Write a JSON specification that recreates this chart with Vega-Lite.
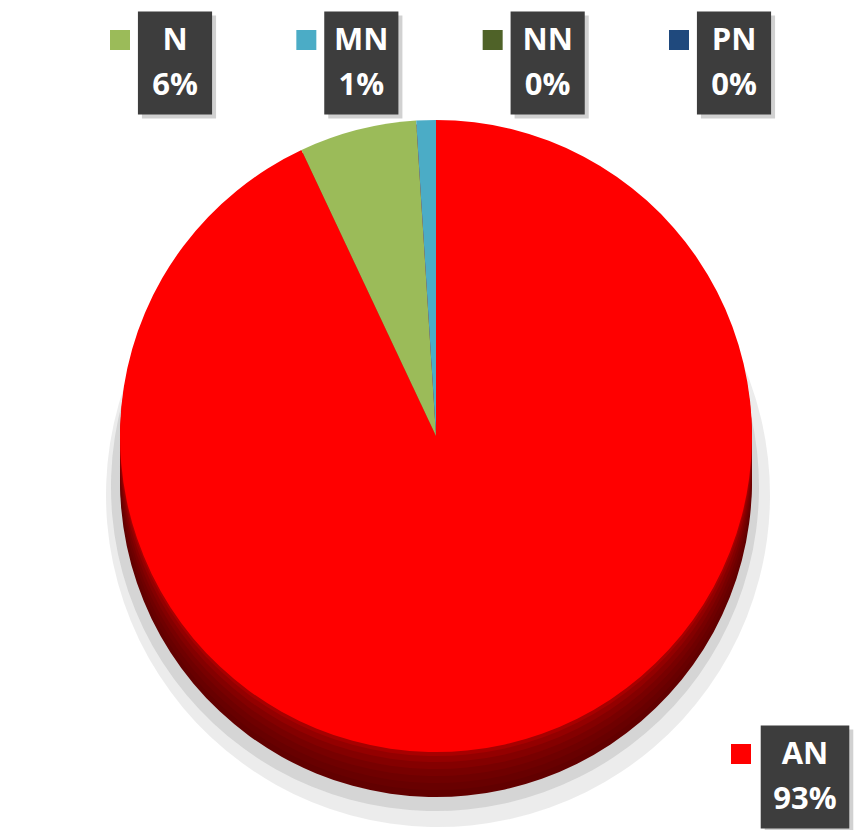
{
  "$schema": "https://vega.github.io/schema/vega-lite/v6.json",
  "width": 856,
  "height": 830,
  "autosize": {"type": "none"},
  "padding": 0,
  "background": "white",
  "config": {"view": {"stroke": null}},
  "data": {
    "values": [
      {"category": "AN", "share": 0.93},
      {"category": "N", "share": 0.06},
      {"category": "MN", "share": 0.01},
      {"category": "NN", "share": 0},
      {"category": "PN", "share": 0}
    ]
  },
  "transform": [{"window": [{"op": "row_number", "as": "rank"}]}],
  "layer": [
    {
      "mark": {"type": "arc", "outerRadius": 332, "fill": "#a0a0a0", "opacity": 0.2, "xOffset": 10, "yOffset": 80},
      "encoding": {"theta": {"field": "share", "type": "quantitative"}, "order": {"field": "rank"}}
    },
    {
      "mark": {"type": "arc", "outerRadius": 324, "fill": "#a0a0a0", "opacity": 0.3, "xOffset": 7, "yOffset": 72},
      "encoding": {"theta": {"field": "share", "type": "quantitative"}, "order": {"field": "rank"}}
    },
    {
      "mark": {"type": "arc", "outerRadius": 316, "fill": "#620000", "xOffset": 8, "yOffset": 66},
      "encoding": {"theta": {"field": "share", "type": "quantitative"}, "order": {"field": "rank"}}
    },
    {
      "mark": {"type": "arc", "outerRadius": 316, "fill": "#680000", "xOffset": 8, "yOffset": 59},
      "encoding": {"theta": {"field": "share", "type": "quantitative"}, "order": {"field": "rank"}}
    },
    {
      "mark": {"type": "arc", "outerRadius": 316, "fill": "#6f0000", "xOffset": 8, "yOffset": 52},
      "encoding": {"theta": {"field": "share", "type": "quantitative"}, "order": {"field": "rank"}}
    },
    {
      "mark": {"type": "arc", "outerRadius": 316, "fill": "#780000", "xOffset": 8, "yOffset": 45},
      "encoding": {"theta": {"field": "share", "type": "quantitative"}, "order": {"field": "rank"}}
    },
    {
      "mark": {"type": "arc", "outerRadius": 316, "fill": "#840000", "xOffset": 8, "yOffset": 38},
      "encoding": {"theta": {"field": "share", "type": "quantitative"}, "order": {"field": "rank"}}
    },
    {
      "mark": {"type": "arc", "outerRadius": 316, "fill": "#940000", "xOffset": 8, "yOffset": 31},
      "encoding": {"theta": {"field": "share", "type": "quantitative"}, "order": {"field": "rank"}}
    },
    {
      "mark": {"type": "arc", "outerRadius": 316, "fill": "#a80000", "xOffset": 8, "yOffset": 25},
      "encoding": {"theta": {"field": "share", "type": "quantitative"}, "order": {"field": "rank"}}
    },
    {
      "mark": {"type": "arc", "outerRadius": 316, "xOffset": 8, "yOffset": 21, "strokeWidth": 0},
      "encoding": {
        "theta": {"field": "share", "type": "quantitative"},
        "order": {"field": "rank"},
        "color": {
          "field": "category",
          "type": "nominal",
          "scale": {
            "domain": ["AN", "N", "MN", "NN", "PN"],
            "range": ["#ff0000", "#9bbb59", "#4bacc6", "#4f6228", "#1f497d"]
          },
          "legend": null
        }
      }
    },
    {
      "transform": [{"filter": "datum.category !== 'AN'"}],
      "encoding": {
        "x": {
          "field": "category",
          "type": "nominal",
          "scale": {"type": "point", "domain": ["N", "MN", "NN", "PN"], "range": [175, 734], "padding": 0},
          "axis": null
        },
        "y": {"value": 63}
      },
      "layer": [
        {
          "mark": {"type": "point", "shape": "M-0.72,-1L0.72,-1L0.72,1L-0.72,1Z", "size": 10609, "filled": true, "fill": "#000000", "opacity": 0.18, "strokeWidth": 0, "xOffset": 4, "yOffset": 4}
        },
        {
          "mark": {"type": "point", "shape": "M-0.72,-1L0.72,-1L0.72,1L-0.72,1Z", "size": 10609, "filled": true, "fill": "#3d3d3d", "opacity": 1, "strokeWidth": 0}
        },
        {
          "mark": {"type": "square", "size": 400, "filled": true, "opacity": 1, "strokeWidth": 0, "xOffset": -55, "yOffset": -23},
          "encoding": {"color": {"field": "category", "type": "nominal", "legend": null}}
        },
        {
          "mark": {"type": "text", "font": "Open Sans", "fontWeight": "bold", "fontSize": 31, "fill": "white", "align": "center", "baseline": "middle", "dy": -22},
          "encoding": {"text": {"field": "category", "type": "nominal"}}
        },
        {
          "mark": {"type": "text", "font": "Open Sans", "fontWeight": "bold", "fontSize": 31, "fill": "white", "align": "center", "baseline": "middle", "dy": 23},
          "encoding": {"text": {"field": "share", "type": "quantitative", "format": ".0%"}}
        }
      ]
    },
    {
      "transform": [{"filter": "datum.category === 'AN'"}],
      "encoding": {
        "x": {
          "field": "category",
          "type": "nominal",
          "scale": {"type": "point", "domain": ["AN"], "range": [760, 850]},
          "axis": null
        },
        "y": {"value": 777}
      },
      "layer": [
        {
          "mark": {"type": "point", "shape": "M-0.86,-1L0.86,-1L0.86,1L-0.86,1Z", "size": 10609, "filled": true, "fill": "#000000", "opacity": 0.18, "strokeWidth": 0, "xOffset": 4, "yOffset": 4}
        },
        {
          "mark": {"type": "point", "shape": "M-0.86,-1L0.86,-1L0.86,1L-0.86,1Z", "size": 10609, "filled": true, "fill": "#3d3d3d", "opacity": 1, "strokeWidth": 0}
        },
        {
          "mark": {"type": "square", "size": 400, "filled": true, "opacity": 1, "strokeWidth": 0, "xOffset": -64, "yOffset": -23},
          "encoding": {"color": {"field": "category", "type": "nominal", "legend": null}}
        },
        {
          "mark": {"type": "text", "font": "Open Sans", "fontWeight": "bold", "fontSize": 31, "fill": "white", "align": "center", "baseline": "middle", "dy": -22},
          "encoding": {"text": {"field": "category", "type": "nominal"}}
        },
        {
          "mark": {"type": "text", "font": "Open Sans", "fontWeight": "bold", "fontSize": 31, "fill": "white", "align": "center", "baseline": "middle", "dy": 23},
          "encoding": {"text": {"field": "share", "type": "quantitative", "format": ".0%"}}
        }
      ]
    }
  ],
  "resolve": {"scale": {"x": "independent"}}
}
